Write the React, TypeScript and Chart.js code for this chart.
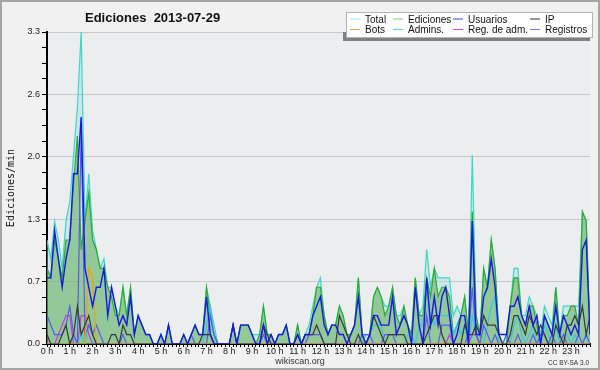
import React, { useEffect, useRef } from 'react';
import { Chart, registerables } from 'chart.js';

Chart.register(...registerables);

// ---- Data (values in edits/min, one value per 10-minute slot, 144 slots) ----
const HOUR_LABELS = ['0 h', '1 h', '2 h', '3 h', '4 h', '5 h', '6 h', '7 h', '8 h', '9 h', '10 h', '11 h',
  '12 h', '13 h', '14 h', '15 h', '16 h', '17 h', '18 h', '19 h', '20 h', '21 h', '22 h', '23 h'];
const Y_MAJOR = [0, 0.66, 1.32, 1.98, 2.64, 3.3];
const Y_LABELS = ['0.0', '0.7', '1.3', '2.0', '2.6', '3.3'];
const TITLE = 'Ediciones  2013-07-29';
const Y_TITLE = 'Ediciones/min';
const FOOTER = 'wikiscan.org';
const LICENSE = 'CC BY-SA 3.0';
const SERIES_NAMES = ['Total', 'Ediciones', 'Usuarios', 'IP', 'Bots', 'Admins.', 'Reg. de adm.', 'Registros'];

const TOTAL = [
  1.1, 0.9, 1.3, 1.1, 0.8, 1.3, 1.5, 2.0, 2.5, 3.3, 1.3, 1.8,
  1.2, 1.0, 0.8, 0.9, 0.6, 0.6, 0.4, 0.3, 0.6, 0.3, 0.6, 0.1,
  0.3, 0.2, 0.1, 0.1, 0, 0, 0.1, 0, 0.2, 0, 0, 0,
  0.1, 0, 0.1, 0.2, 0.1, 0.1, 0.6, 0.4, 0.2, 0, 0, 0,
  0, 0.2, 0, 0.2, 0.2, 0.2, 0.1, 0.1, 0.1, 0.4, 0.1, 0.1,
  0, 0.1, 0.1, 0.2, 0, 0, 0.2, 0, 0.1, 0.2, 0.4, 0.6,
  0.7, 0.3, 0.1, 0.2, 0.2, 0.4, 0.3, 0.1, 0.1, 0.2, 0.7, 0.1,
  0.1, 0.1, 0.5, 0.6, 0.5, 0.4, 0.4, 0.6, 0.3, 0.3, 0.4, 0.2,
  0.1, 0.7, 0.3, 0.4, 1.0, 0.6, 0.8, 0.7, 0.7, 0.7, 0.7, 0.3,
  0.4, 0.3, 0.5, 0.1, 2.0, 0.3, 0.1, 0.8, 0.6, 1.1, 0.8, 0.1,
  0, 0.1, 0.4, 0.8, 0.8, 0.3, 0.3, 0.5, 0.4, 0.3, 0.1, 0.4,
  0.3, 0.2, 0.6, 0.1, 0.4, 0.4, 0.4, 0.4, 0.4, 1.4, 1.3, 0.1,
];
const EDICIONES = [
  0.8, 0.7, 1.1, 0.9, 0.7, 1.1, 1.1, 1.7, 2.2, 1.0, 1.3, 1.6,
  1.1, 1.0, 0.8, 0.8, 0.6, 0.5, 0.3, 0.3, 0.6, 0.3, 0.6, 0.1,
  0.3, 0.2, 0.1, 0.1, 0, 0, 0.1, 0, 0.2, 0, 0, 0,
  0.1, 0, 0.1, 0.2, 0.1, 0.1, 0.6, 0.3, 0.1, 0, 0, 0,
  0, 0.2, 0, 0.2, 0.2, 0.2, 0.1, 0, 0.1, 0.4, 0.1, 0.1,
  0, 0.1, 0.1, 0.2, 0, 0, 0.2, 0, 0.1, 0.1, 0.3, 0.6,
  0.6, 0.3, 0.1, 0.2, 0.2, 0.4, 0.3, 0.1, 0.1, 0.2, 0.7, 0.1,
  0, 0.1, 0.5, 0.6, 0.5, 0.3, 0.4, 0.6, 0.3, 0.2, 0.4, 0.2,
  0.1, 0.7, 0.3, 0.3, 0.7, 0.5, 0.8, 0.5, 0.6, 0.6, 0.5, 0.1,
  0.2, 0.3, 0.5, 0.1, 1.4, 0.3, 0.1, 0.8, 0.6, 1.1, 0.8, 0.1,
  0, 0, 0.4, 0.7, 0.7, 0.3, 0.2, 0.4, 0.4, 0.2, 0, 0.3,
  0.2, 0.1, 0.6, 0.1, 0.3, 0.3, 0.4, 0.4, 0.2, 1.4, 1.3, 0.1,
];
const USUARIOS = [
  0.7, 0.7, 1.2, 0.9, 0.6, 0.9, 1.1, 1.8, 1.8, 2.4, 0.8, 0.6,
  0.4, 0.6, 0.6, 0.8, 0.3, 0.6, 0.4, 0.2, 0.3, 0.2, 0.5, 0.1,
  0.3, 0.2, 0.1, 0.1, 0, 0, 0.1, 0, 0.2, 0, 0, 0,
  0.1, 0, 0.1, 0.2, 0.1, 0.1, 0.5, 0.1, 0, 0, 0, 0,
  0, 0.2, 0, 0.2, 0.2, 0.2, 0.1, 0, 0, 0.2, 0, 0.1,
  0, 0.1, 0.1, 0.2, 0, 0, 0.1, 0, 0.1, 0.1, 0.3, 0.4,
  0.5, 0.2, 0.1, 0.2, 0.2, 0.1, 0.1, 0, 0.1, 0.2, 0.5, 0.1,
  0, 0.1, 0.3, 0.3, 0.2, 0.2, 0.2, 0.5, 0.1, 0.2, 0.3, 0.2,
  0, 0.6, 0.2, 0, 0.7, 0.2, 0.5, 0.2, 0.5, 0.6, 0.3, 0,
  0.1, 0.3, 0.3, 0, 1.3, 0.1, 0.1, 0.5, 0.6, 0.9, 0.6, 0.1,
  0.1, 0.1, 0.4, 0.4, 0.5, 0.3, 0.2, 0.4, 0.2, 0.3, 0, 0.3,
  0.2, 0.1, 0.4, 0.1, 0.3, 0.2, 0.1, 0.2, 0.1, 1.0, 1.1, 0.1,
];
const IP = [
  0.1, 0, 0, 0, 0.1, 0.2, 0, 0.1, 0.4, 0.1, 0.2, 0.3,
  0.1, 0, 0, 0, 0, 0.1, 0.1, 0, 0.2, 0.1, 0.1, 0,
  0, 0, 0, 0, 0, 0, 0, 0, 0, 0, 0, 0,
  0, 0, 0, 0, 0, 0.1, 0.1, 0.1, 0, 0, 0, 0,
  0, 0.2, 0, 0, 0, 0, 0, 0, 0, 0.2, 0.1, 0,
  0, 0, 0, 0, 0, 0, 0.1, 0, 0.1, 0.1, 0.1, 0.2,
  0.1, 0, 0, 0, 0, 0.3, 0.2, 0.1, 0, 0, 0.1, 0,
  0, 0.1, 0.3, 0.2, 0.1, 0, 0.1, 0.1, 0.1, 0.1, 0.1, 0,
  0, 0, 0, 0, 0.1, 0.2, 0.3, 0.3, 0.1, 0, 0, 0,
  0, 0, 0.2, 0.1, 0.1, 0.2, 0.1, 0.3, 0.2, 0.2, 0.2, 0.1,
  0, 0, 0.1, 0.3, 0.3, 0.2, 0.1, 0.3, 0.2, 0.1, 0.2, 0.1,
  0, 0, 0.2, 0.1, 0, 0.2, 0.2, 0.3, 0.2, 0.4, 0.1, 0.3,
];
const BOTS = [
  0, 0, 0, 0, 0, 0, 0, 0, 0, 0, 0, 0.8,
  0.7, 0, 0, 0, 0, 0, 0, 0, 0, 0, 0, 0,
  0, 0, 0, 0, 0, 0, 0, 0, 0, 0, 0, 0,
  0, 0, 0, 0, 0, 0, 0, 0, 0, 0, 0, 0,
  0, 0, 0, 0, 0, 0, 0, 0, 0, 0, 0, 0,
  0, 0, 0, 0, 0, 0, 0, 0, 0, 0, 0, 0,
  0, 0, 0, 0, 0, 0, 0, 0, 0, 0, 0, 0,
  0, 0, 0, 0, 0, 0, 0, 0, 0, 0, 0, 0,
  0, 0, 0, 0, 0, 0, 0, 0, 0, 0, 0, 0,
  0, 0, 0, 0, 0, 0, 0, 0, 0, 0, 0, 0,
  0, 0, 0, 0, 0, 0, 0, 0, 0, 0, 0, 0,
  0, 0, 0, 0, 0, 0, 0, 0, 0, 0, 0, 0,
];
const ADMINS = [
  0, 0, 0, 0, 0, 0, 0, 0.1, 0, 0.1, 0, 0.2,
  0.1, 0, 0, 0, 0, 0, 0, 0, 0, 0, 0, 0,
  0, 0, 0, 0, 0, 0, 0, 0, 0, 0, 0, 0,
  0, 0, 0, 0, 0, 0, 0.2, 0.4, 0.1, 0, 0, 0,
  0, 0, 0, 0, 0, 0, 0, 0, 0, 0, 0, 0,
  0, 0, 0, 0, 0, 0, 0, 0, 0, 0, 0, 0,
  0, 0, 0, 0, 0, 0, 0, 0, 0, 0, 0, 0,
  0.1, 0.1, 0.2, 0.2, 0.2, 0, 0, 0, 0, 0, 0, 0.1,
  0.1, 0, 0.2, 0.2, 0.6, 0.3, 0.2, 0.3, 0.3, 0.3, 0.3, 0.1,
  0.2, 0.1, 0.2, 0, 0.3, 0.1, 0, 0, 0.2, 0.4, 0.5, 0,
  0, 0, 0, 0.2, 0.3, 0.1, 0, 0.1, 0.2, 0, 0, 0.2,
  0.1, 0, 0.2, 0, 0.1, 0.1, 0, 0.1, 0, 0, 0.1, 0,
];
const REG_ADM = [
  0, 0, 0, 0.1, 0.2, 0.3, 0.3, 0, 0, 0.3, 0.3, 0.1,
  0, 0, 0, 0, 0, 0, 0, 0, 0, 0, 0, 0,
  0, 0, 0, 0, 0, 0, 0, 0, 0, 0, 0, 0,
  0, 0, 0, 0, 0, 0, 0, 0, 0, 0, 0, 0,
  0, 0, 0, 0, 0, 0, 0, 0, 0, 0, 0, 0,
  0, 0, 0, 0, 0, 0, 0, 0, 0, 0, 0, 0,
  0, 0, 0, 0, 0, 0, 0, 0, 0, 0, 0, 0,
  0, 0, 0, 0, 0, 0, 0, 0, 0, 0, 0, 0,
  0, 0, 0, 0, 0, 0, 0, 0, 0, 0, 0.1, 0,
  0, 0, 0, 0, 0.1, 0.1, 0, 0, 0, 0, 0, 0,
  0, 0, 0, 0, 0, 0, 0, 0, 0, 0, 0, 0,
  0, 0, 0, 0, 0, 0, 0, 0, 0, 0, 0, 0,
];
const REGISTROS = [
  0.3, 0.2, 0.1, 0.1, 0.1, 0.2, 0.4, 0.1, 0, 2.3, 0.1, 0.2,
  0.1, 0.2, 0.1, 0, 0, 0, 0, 0, 0.1, 0, 0, 0,
  0, 0, 0, 0, 0, 0, 0, 0, 0, 0, 0, 0,
  0, 0, 0.1, 0, 0, 0, 0, 0.3, 0.1, 0, 0, 0,
  0, 0, 0, 0, 0, 0, 0, 0, 0, 0.1, 0, 0,
  0, 0, 0, 0, 0, 0, 0, 0, 0, 0.1, 0.1, 0.1,
  0.1, 0, 0, 0, 0, 0, 0, 0, 0, 0, 0, 0.1,
  0.1, 0.1, 0, 0, 0, 0.1, 0.1, 0.1, 0, 0, 0, 0,
  0, 0, 0, 0, 0.3, 0, 0, 0, 0.2, 0.2, 0.2, 0,
  0, 0, 0, 0.1, 0.6, 0.1, 0, 0.2, 0.1, 0, 0.1, 0,
  0, 0.1, 0, 0, 0.1, 0, 0, 0, 0.1, 0, 0.1, 0.1,
  0, 0.1, 0, 0, 0.1, 0, 0, 0, 0.1, 0, 0.1, 0,
];

// ---- Styles ----
const LINE_COLORS = ['#3fd6c6', '#2fa82f', '#1818e0', '#383838', '#f5a000', '#35c6e6', '#c23ee0', '#5a5af2'];
const LEGEND_COLORS = ['#a6e6e0', '#80d080', '#3c3ce6', '#303030', '#f0a040', '#50d0e0', '#d050e0', '#7a7af0'];
const FONT = '"Liberation Sans", Arial, sans-serif';

const toPoints = (arr: number[]) => arr.map((v, i) => ({ x: i, y: v }));

const decorPlugin = {
  id: 'decor',
  beforeDraw(chart: any) {
    const { ctx, chartArea: a } = chart;
    ctx.save();
    ctx.fillStyle = '#f1f1f1';
    ctx.fillRect(0, 0, chart.width, chart.height);
    ctx.fillStyle = '#ecedef';
    ctx.fillRect(a.left, a.top, a.right - a.left, a.bottom - a.top);
    ctx.restore();
  },
  afterDraw(chart: any) {
    const { ctx } = chart;
    ctx.save();
    // frame
    ctx.strokeStyle = '#a4a4a4';
    ctx.lineWidth = 2;
    ctx.strokeRect(1, 1, chart.width - 2, chart.height - 2);
    // title
    ctx.fillStyle = '#111';
    ctx.font = `bold 13px ${FONT}`;
    ctx.textAlign = 'left';
    ctx.textBaseline = 'alphabetic';
    ctx.fillText(TITLE, 85, 21.5);
    // y title
    ctx.save();
    ctx.translate(11, 188);
    ctx.rotate(-Math.PI / 2);
    ctx.font = '10px "DejaVu Sans Mono", monospace';
    ctx.textAlign = 'center';
    ctx.textBaseline = 'middle';
    ctx.fillStyle = '#111';
    ctx.fillText(Y_TITLE, 0, 0);
    ctx.restore();
    // footer
    ctx.fillStyle = '#333';
    ctx.font = `9px ${FONT}`;
    ctx.textAlign = 'center';
    ctx.fillText(FOOTER, 300, 364);
    ctx.font = `6.5px ${FONT}`;
    ctx.textAlign = 'right';
    ctx.fillText(LICENSE, 589, 365);
    // legend
    ctx.fillStyle = '#808080';
    ctx.fillRect(343, 32, 3, 9);
    ctx.fillRect(343, 38, 247, 3);
    ctx.fillStyle = '#ffffff';
    ctx.fillRect(346, 12, 247, 26);
    ctx.strokeStyle = '#b4b4b4';
    ctx.lineWidth = 1;
    ctx.strokeRect(346.5, 12.5, 246, 25);
    const colX = [350, 393, 453, 530];
    const rowLineY = [19, 29.5];
    const rowTextY = [22.5, 33];
    ctx.font = `10px ${FONT}`;
    ctx.textAlign = 'left';
    SERIES_NAMES.forEach((name, k) => {
      const col = k % 4;
      const row = Math.floor(k / 4);
      ctx.strokeStyle = LEGEND_COLORS[k];
      ctx.lineWidth = 1;
      ctx.beginPath();
      ctx.moveTo(colX[col], rowLineY[row]);
      ctx.lineTo(colX[col] + 10, rowLineY[row]);
      ctx.stroke();
      ctx.fillStyle = '#111';
      ctx.fillText(name, colX[col] + 15, rowTextY[row]);
    });
    ctx.restore();
  },
};

export default function App() {
  const ref = useRef<HTMLCanvasElement>(null);

  useEffect(() => {
    document.body.style.margin = '0';
    const canvas = ref.current;
    if (!canvas) return;

    const yTickValues: number[] = [];
    for (let m = 0; m < Y_MAJOR.length - 1; m++) {
      for (let k = 0; k < 4; k++) {
        yTickValues.push(Y_MAJOR[m] + ((Y_MAJOR[m + 1] - Y_MAJOR[m]) * k) / 4);
      }
    }
    yTickValues.push(Y_MAJOR[Y_MAJOR.length - 1]);
    const xTickValues = TOTAL.map((_, i) => i);

    const seriesData = [TOTAL, EDICIONES, USUARIOS, IP, BOTS, ADMINS, REG_ADM, REGISTROS];
    // drawing order: higher order = drawn first (below)
    const orders = [10, 9, 3, 4, 5, 8, 7, 6];

    const datasets = seriesData.map((arr, k) => ({
      label: SERIES_NAMES[k],
      data: toPoints(arr),
      borderColor: LINE_COLORS[k],
      borderWidth: k === 2 ? 1.4 : 1.2,
      pointRadius: 0,
      tension: 0,
      order: orders[k],
      fill: k === 0 || k === 1 ? 'origin' : false,
      backgroundColor:
        k === 0 ? 'rgba(160,222,226,0.42)' : k === 1 ? 'rgba(90,170,70,0.5)' : LINE_COLORS[k],
    }));

    const chart = new Chart(canvas, {
      type: 'line',
      data: { datasets: datasets as any },
      plugins: [decorPlugin],
      options: {
        responsive: false,
        animation: false,
        devicePixelRatio: 1,
        layout: { padding: { left: 0, right: 10, top: 32, bottom: 0 } },
        plugins: {
          legend: { display: false },
          title: { display: false },
          tooltip: { enabled: false },
          filler: { drawTime: 'beforeDatasetsDraw' },
        } as any,
        scales: {
          x: {
            type: 'linear',
            min: 0,
            max: xTickValues.length - 1,
            afterBuildTicks: (scale: any) => {
              scale.ticks = xTickValues.map((v) => ({ value: v }));
            },
            afterFit: (scale: any) => {
              scale.height = 26;
            },
            ticks: {
              autoSkip: false,
              maxRotation: 0,
              minRotation: 0,
              padding: -1,
              color: '#222',
              font: { family: FONT, size: 9 },
              callback: (v: any) => (Number(v) % 6 === 0 ? HOUR_LABELS[Number(v) / 6] : ''),
            },
            grid: {
              drawOnChartArea: false,
              drawTicks: true,
              tickLength: 3,
              tickColor: '#000',
              lineWidth: 1,
            },
            border: { display: true, color: '#000', width: 2 },
          },
          y: {
            type: 'linear',
            min: 0,
            max: 3.3,
            afterBuildTicks: (scale: any) => {
              scale.ticks = yTickValues.map((v) => ({ value: v }));
            },
            afterFit: (scale: any) => {
              scale.width = 47;
            },
            ticks: {
              autoSkip: false,
              padding: 2,
              color: '#222',
              font: { family: FONT, size: 9 },
              callback: (_v: any, idx: number) => (idx % 4 === 0 ? Y_LABELS[idx / 4] : ''),
            },
            grid: {
              drawOnChartArea: true,
              drawTicks: true,
              tickLength: 5,
              tickColor: '#000',
              lineWidth: 1,
              color: (c: any) => (c.index % 4 === 0 ? '#c9c9c9' : 'rgba(0,0,0,0)'),
            },
            border: { display: true, color: '#000', width: 2 },
          },
        },
      } as any,
    });

    return () => chart.destroy();
  }, []);

  return (
    <div style={{ width: 600, height: 370 }}>
      <canvas ref={ref} width={600} height={370} style={{ display: 'block' }} />
    </div>
  );
}
